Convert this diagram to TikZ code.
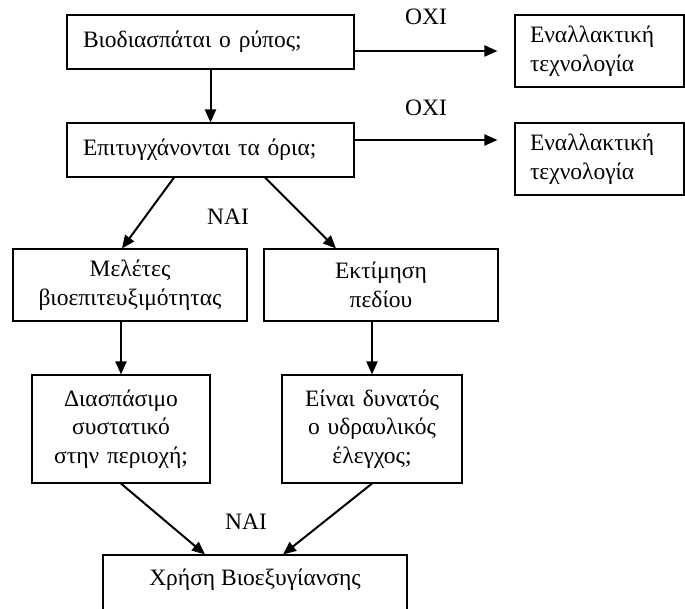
\documentclass[tikz,border=0pt]{standalone}
\usepackage{fontspec}
\setmainfont{Liberation Serif}
\usetikzlibrary{arrows.meta}
\begin{document}
\begin{tikzpicture}[x=1pt,y=-1pt,
  txt/.style={font=\fontsize{23.5}{28.5}\selectfont},
  box/.style={txt, draw, line width=1.1pt, rectangle, inner ysep=0pt},
  lbox/.style={box, align=left, inner xsep=16pt},
  rbox/.style={box, align=left, inner xsep=15pt, text width=139pt, minimum height=72pt},
  cbox/.style={box, align=center, inner xsep=2pt},
  conn/.style={line width=2pt, -{Triangle[length=13pt,width=11pt]}},
  lbl/.style={txt, inner sep=0pt}]
\useasboundingbox (0,0) rectangle (685,608);
\clip (0,0) rectangle (685,608);
% nodes
\node[lbox, text width=255pt, minimum height=54pt] (b1) at (210.5,42) {Βιοδιασπάται ο ρύπος;};
\node[lbox, text width=255pt, minimum height=54pt] (b2) at (210.5,150) {Επιτυγχάνονται τα όρια;};
\node[rbox] (r1) at (599.5,51) {Εναλλακτική\\τεχνολογία};
\node[rbox] (r2) at (599.5,159) {Εναλλακτική\\τεχνολογία};
\node[cbox, text width=230pt, minimum height=72pt] (b3) at (130,285) {Μελέτες\\βιοεπιτευξιμότητας};
\node[cbox, text width=230pt, minimum height=72pt] (b4) at (381,285) {Εκτίμηση\\πεδίου};
\node[cbox, text width=174pt, minimum height=108pt] (b5) at (121,429) {Διασπάσιμο\\συστατικό\\στην περιοχή;};
\node[cbox, text width=176pt, minimum height=108pt] (b6) at (372,429) {Είναι δυνατός\\ο υδραυλικός\\έλεγχος;};
\node[cbox, text width=300pt, minimum height=70pt, text depth=35pt] (b7) at (255,590) {};
\node[lbl, anchor=center] (t7) at (255,580) {Χρήση Βιοεξυγίανσης};
% labels
\node[lbl] (o1) at (426,17) {ΟΧΙ};
\node[lbl] (o2) at (426,108) {ΟΧΙ};
\node[lbl] (n1) at (228,217) {ΝΑΙ};
\node[lbl] (n2) at (246,522) {ΝΑΙ};
% connectors
\draw[conn] (b1.south) -- (b2.north);
\draw[conn, shorten >=17pt] (b1.east |- r1.west) -- (r1.west);
\draw[conn, shorten >=17pt] ([yshift=10pt]b2.east) -- ([yshift=10pt]b2.east -| r2.west);
\draw[conn] ([xshift=-36.5pt]b2.south) -- ([xshift=-8pt]b3.north);
\draw[conn] ([xshift=54.5pt]b2.south) -- ([xshift=-45pt]b4.north);
\draw[conn] (b5.north |- b3.south) -- (b5.north);
\draw[conn] (b6.north |- b4.south) -- (b6.north);
\draw[conn] (b5.south) -- ([xshift=-50pt]b7.north);
\draw[conn] (b6.south) -- ([xshift=28pt]b7.north);
\end{tikzpicture}
\end{document}
